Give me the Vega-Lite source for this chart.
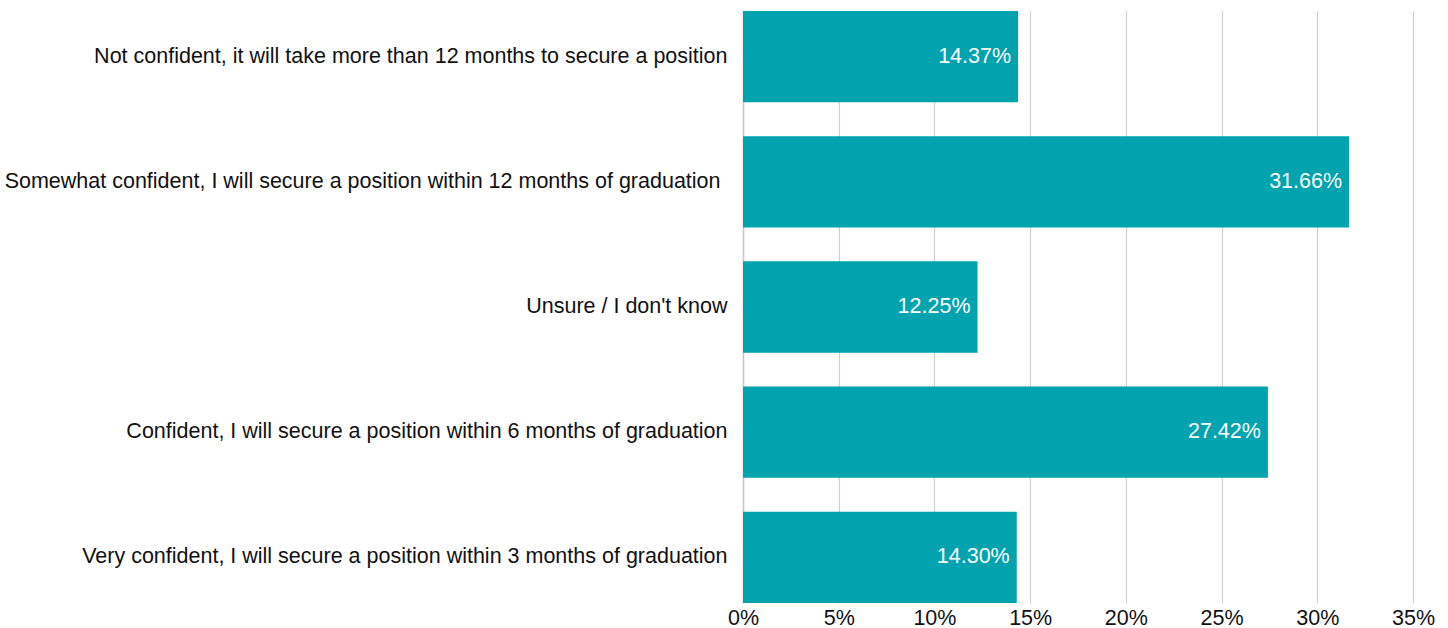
{
  "$schema": "https://vega.github.io/schema/vega-lite/v6.json",
  "autosize": "none",
  "width": 670,
  "height": 592,
  "padding": {"left": 743, "top": 11, "right": 35, "bottom": 25},
  "background": "white",
  "config": {"view": {"stroke": null}, "font": "Liberation Sans"},
  "data": {"values": [
    {"answer": "Not confident, it will take more than 12 months to secure a position", "share": 0.1437, "label": "14.37%"},
    {"answer": "Somewhat confident, I will secure a position within 12 months of graduation", "share": 0.3166, "label": "31.66%"},
    {"answer": "Unsure / I don't know", "share": 0.1225, "label": "12.25%"},
    {"answer": "Confident, I will secure a position within 6 months of graduation", "share": 0.2742, "label": "27.42%"},
    {"answer": "Very confident, I will secure a position within 3 months of graduation", "share": 0.1430, "label": "14.30%"}
  ]},
  "encoding": {
    "y": {"field": "answer", "type": "nominal", "sort": null,
      "scale": {"paddingInner": 0.27, "paddingOuter": 0},
      "axis": {"title": null, "ticks": false, "domain": true, "domainColor": "#c8c8c8", "domainWidth": 1.5, "labelFontSize": 21.5, "labelColor": "#111111",
        "labelPadding": {"condition": {"test": "indexof(datum.value, 'Somewhat') === 0", "value": 23}, "value": 16},
        "labelLimit": 800, "labelFont": "Liberation Sans"}},
    "x": {"field": "share", "type": "quantitative",
      "scale": {"domain": [0, 0.35], "nice": false},
      "axis": {"title": null, "format": ".0%", "values": [0, 0.05, 0.1, 0.15, 0.2, 0.25, 0.3, 0.35], "domain": false, "ticks": false, "grid": true, "gridColor": "#d0d0d0", "gridWidth": 1.2, "labelFontSize": 21.5, "labelColor": "#111111", "labelPadding": 4, "labelFont": "Liberation Sans", "labelFlush": false}}
  },
  "layer": [
    {"mark": {"type": "bar", "color": "#00A3AE"}},
    {"mark": {"type": "text", "align": "right", "baseline": "middle", "dx": -7, "fontSize": 21.5, "color": "white", "font": "Liberation Sans"},
     "encoding": {"text": {"field": "label"}}}
  ]
}
